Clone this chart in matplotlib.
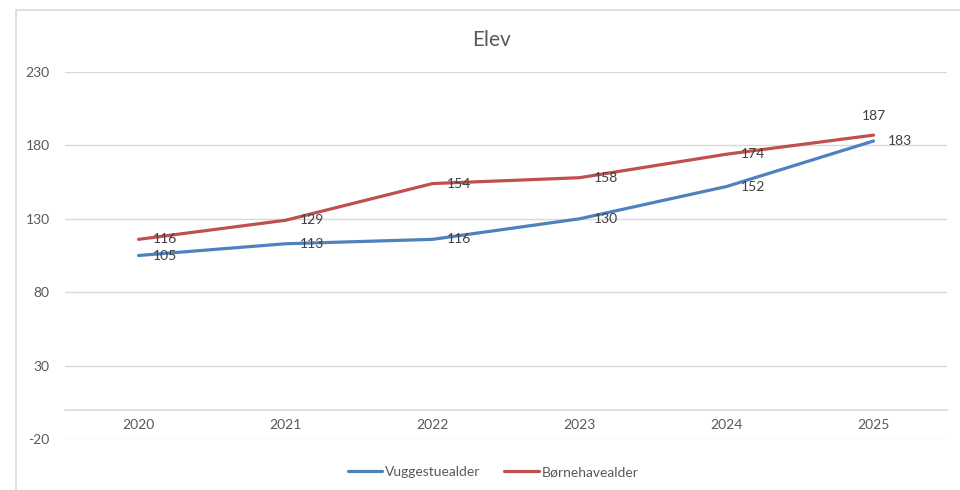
import matplotlib.pyplot as plt
from matplotlib.patches import Rectangle

years = ["2020", "2021", "2022", "2023", "2024", "2025"]
vuggestue = [105, 113, 116, 130, 152, 183]
boernehave = [116, 129, 154, 158, 174, 187]
yticks = [-20, 30, 80, 130, 180, 230]

plt.rcParams['font.family'] = ['Lato', 'DejaVu Sans']
plt.rcParams['axes.unicode_minus'] = False
txt = "#595959"
grid = "#d9d9d9"

fig = plt.figure(figsize=(9.6, 4.9), dpi=100)
ax = fig.add_axes([65/960, 1-439/490, (947-65)/960, (439-72)/490])

# chart frame (cropped at right/bottom)
fig.patches.append(Rectangle((16/960, -0.1), 1.2, 1-10/490+0.1, transform=fig.transFigure,
                             fill=False, edgecolor=grid, lw=1.2))

x = list(range(len(years)))
ax.plot(x, vuggestue, color="#4F81BD", lw=2.3, label="Vuggestuealder", solid_capstyle="round")
ax.plot(x, boernehave, color="#C0504D", lw=2.3, label="Børnehavealder", solid_capstyle="round")

for i, v in enumerate(vuggestue):
    ax.annotate(str(v), (i, v), xytext=(10, 0), textcoords="offset points",
                ha="left", va="center", fontsize=10, color="#404040")
for i, v in enumerate(boernehave):
    if i == len(boernehave) - 1:
        ax.annotate(str(v), (i, v), xytext=(0, 14), textcoords="offset points",
                    ha="center", va="center", fontsize=10, color="#404040")
    else:
        ax.annotate(str(v), (i, v), xytext=(10, 0), textcoords="offset points",
                    ha="left", va="center", fontsize=10, color="#404040")

ax.set_xlim(-0.5, 5.5)
ax.set_ylim(-20, 230)
ax.set_yticks(yticks)
ax.set_xticks(x)
ax.set_xticklabels(years)
ax.grid(axis="y", color=grid, lw=1)
ax.set_axisbelow(True)
for s in ["top", "right", "left"]:
    ax.spines[s].set_visible(False)
ax.spines["bottom"].set_position(("data", 0))
ax.spines["bottom"].set_color(grid)
ax.spines["bottom"].set_linewidth(1.2)
ax.tick_params(axis="x", length=0, pad=7, labelsize=10, labelcolor=txt)
ax.tick_params(axis="y", length=0, pad=11, labelsize=10, labelcolor=txt)

fig.text(491/960, 1-40/490, "Elev", ha="center", va="center", fontsize=15, color=txt)

fig.legend(loc="center", bbox_to_anchor=(493/960, 1-472/490), ncol=2, frameon=False,
           fontsize=10, labelcolor=txt, handlelength=2.5, handletextpad=0.2,
           columnspacing=1.7)

fig.savefig("out.png", dpi=100)
